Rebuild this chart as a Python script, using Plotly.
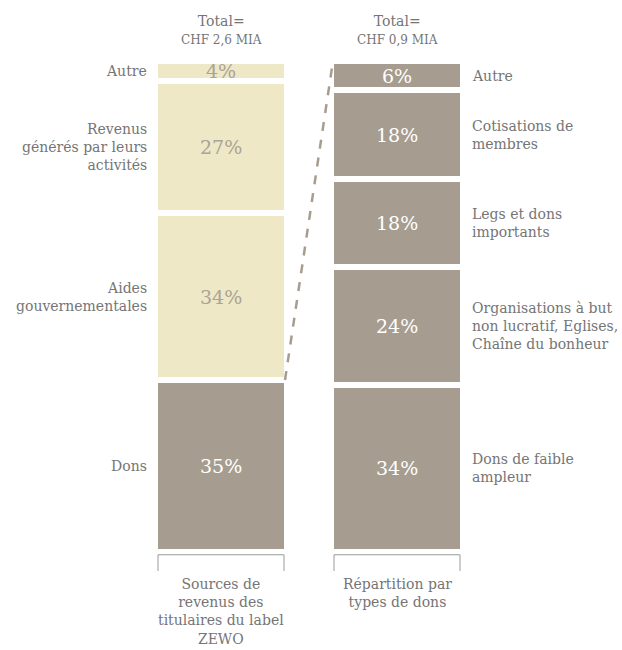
import plotly.graph_objects as go

# ---- data ----
left_labels = ["Dons", "Aides<br>gouvernementales", "Revenus<br>générés par leurs<br>activités", "Autre"]
left_values = [35, 34, 27, 4]
right_labels = ["Dons de faible<br>ampleur", "Organisations à but<br>non lucratif, Eglises,<br>Chaîne du bonheur",
                "Legs et dons<br>importants", "Cotisations de<br>membres", "Autre"]
right_values = [34, 24, 18, 18, 6]
titles = ["Total=<br><span style='font-size:12px'>CHF 2,6 MIA</span>",
          "Total=<br><span style='font-size:12px'>CHF 0,9 MIA</span>"]
captions = ["Sources de<br>revenus des<br>titulaires du label<br>ZEWO", "Répartition par<br>types de dons"]

BEIGE = "#eee8c6"
GREY = "#a69d90"
TXT = "#757575"
FONT = "DejaVu Serif"

W, H = 622, 650
PX_PER_X = 176.0
x0_px = 221.0
xr = [-x0_px / PX_PER_X, (W - x0_px) / PX_PER_X]
bar_w = 0.75
lw = 6
half_vis = bar_w / 2 - (lw / 2) / PX_PER_X

fig = go.Figure()

def add_stack(xpos, values, colors):
    base = 0
    for v, c in zip(values, colors):
        fig.add_trace(go.Bar(x=[xpos], y=[v], base=[base], width=bar_w,
                             marker=dict(color=c, line=dict(color="white", width=lw)),
                             textposition="none", hoverinfo="skip", showlegend=False))
        base += v

left_colors = [GREY, BEIGE, BEIGE, BEIGE]
right_colors = [GREY] * len(right_values)
add_stack(0, left_values, left_colors)
add_stack(1, right_values, right_colors)

ann = []
# percent labels and side labels
base = 0
for v, lab, c in zip(left_values, left_labels, left_colors):
    mid = base + v / 2
    ann.append(dict(x=0, y=mid, xref="x", yref="y", text=f"{v}%", showarrow=False,
                    font=dict(family=FONT, size=19, color="white" if c == GREY else "#aaa396")))
    ann.append(dict(x=-half_vis - 9 / PX_PER_X, y=mid, xref="x", yref="y", text=lab, showarrow=False,
                    xanchor="right", align="right", font=dict(family=FONT, size=14, color=TXT)))
    base += v
base = 0
for v, lab in zip(right_values, right_labels):
    mid = base + v / 2
    ann.append(dict(x=1, y=mid, xref="x", yref="y", text=f"{v}%", showarrow=False,
                    font=dict(family=FONT, size=19, color="white")))
    ann.append(dict(x=1 + half_vis + 10 / PX_PER_X, y=mid, xref="x", yref="y", text=lab, showarrow=False,
                    xanchor="left", align="left", font=dict(family=FONT, size=14, color=TXT)))
    base += v

for i, t in enumerate(titles):
    ann.append(dict(x=i, y=1, xref="x", yref="paper", yshift=50, text=t, showarrow=False,
                    yanchor="top", font=dict(family=FONT, size=14, color=TXT)))
for i, t in enumerate(captions):
    ann.append(dict(x=i, y=-4.5, xref="x", yref="y", text=t, showarrow=False,
                    yanchor="top", font=dict(family=FONT, size=14, color=TXT)))

shapes = []
# dashed connector from top of left "Dons" to top of right stack
shapes.append(dict(type="line", xref="x", yref="y", x0=half_vis + 1 / PX_PER_X, y0=left_values[0],
                   x1=1 - half_vis - 1 / PX_PER_X, y1=sum(right_values),
                   line=dict(color="#a69d90", width=2.5, dash="dash")))
# brackets
for i in range(2):
    xa, xb = i - half_vis, i + half_vis
    shapes.append(dict(type="path", xref="x", yref="y",
                       path=f"M {xa},-3.9 L {xa},-0.6 L {xb},-0.6 L {xb},-3.9",
                       line=dict(color="#9a9a9a", width=1)))

fig.update_layout(
    width=W, height=H, margin=dict(l=0, r=0, t=61, b=0),
    paper_bgcolor="white", plot_bgcolor="white",
    barmode="overlay", bargap=0,
    xaxis=dict(range=xr, visible=False, fixedrange=True),
    yaxis=dict(range=[-20, 100], visible=False, fixedrange=True),
    annotations=ann, shapes=shapes,
)
fig.write_html("out.html")
